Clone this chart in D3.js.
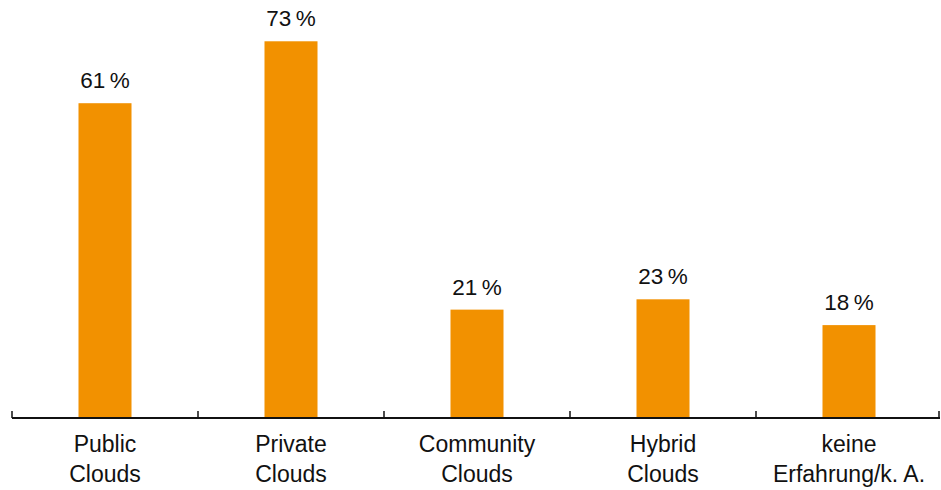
<!DOCTYPE html>
<html>
<head>
<meta charset="utf-8">
<script src="https://cdn.jsdelivr.net/npm/d3@7"></script>
<style>
  body { margin: 0; background: #fff; }
  text { font-family: "Liberation Sans", Helvetica, Arial, sans-serif; fill: #111; }
</style>
</head>
<body>
<script>
const categories = [["Public", "Clouds"], ["Private", "Clouds"], ["Community", "Clouds"], ["Hybrid", "Clouds"], ["keine", "Erfahrung/k. A."]];
const values = [61, 73, 21, 23, 18];

main();

function main() {
  const width = 941;
  const height = 490;
  const baseY = 418;

  const svg = d3.select("body").append("svg")
    .attr("width", width)
    .attr("height", height);

  const x = d3.scaleBand()
    .domain(d3.range(categories.length))
    .range([12, 942]);

  const y = d3.scaleLinear()
    .domain([0, 81])
    .range([baseY, 0]);

  const barW = x.bandwidth() * 0.285;

  // bars
  svg.selectAll("rect.bar")
    .data(values)
    .join("rect")
    .attr("class", "bar")
    .attr("x", (d, i) => x(i) + (x.bandwidth() - barW) / 2)
    .attr("y", d => y(d))
    .attr("width", barW)
    .attr("height", d => baseY - y(d))
    .attr("fill", "#f29100");

  // value labels
  svg.selectAll("text.val")
    .data(values)
    .join("text")
    .attr("class", "val")
    .attr("x", (d, i) => x(i) + x.bandwidth() / 2)
    .attr("y", d => y(d) - 15)
    .attr("text-anchor", "middle")
    .attr("font-size", 22.5)
    .text(d => d + "\u2009%");

  // axis line + ticks
  svg.append("line")
    .attr("x1", 12).attr("x2", 940)
    .attr("y1", baseY).attr("y2", baseY)
    .attr("stroke", "#111").attr("stroke-width", 2);

  const tickPos = d3.range(categories.length).map(i => x(i)).concat([939]);
  svg.selectAll("line.tick")
    .data(tickPos)
    .join("line")
    .attr("class", "tick")
    .attr("x1", d => d).attr("x2", d => d)
    .attr("y1", baseY - 7).attr("y2", baseY)
    .attr("stroke", "#111").attr("stroke-width", 1.5);

  // category labels
  const lab = svg.selectAll("text.cat")
    .data(categories)
    .join("text")
    .attr("class", "cat")
    .attr("text-anchor", "middle")
    .attr("font-size", 23);
  lab.selectAll("tspan")
    .data((d, i) => d.map(s => ({ s, i })))
    .join("tspan")
    .attr("x", d => x(d.i) + x.bandwidth() / 2)
    .attr("y", (d, j) => 452 + j * 30)
    .text(d => d.s);
}
</script>
</body>
</html>
